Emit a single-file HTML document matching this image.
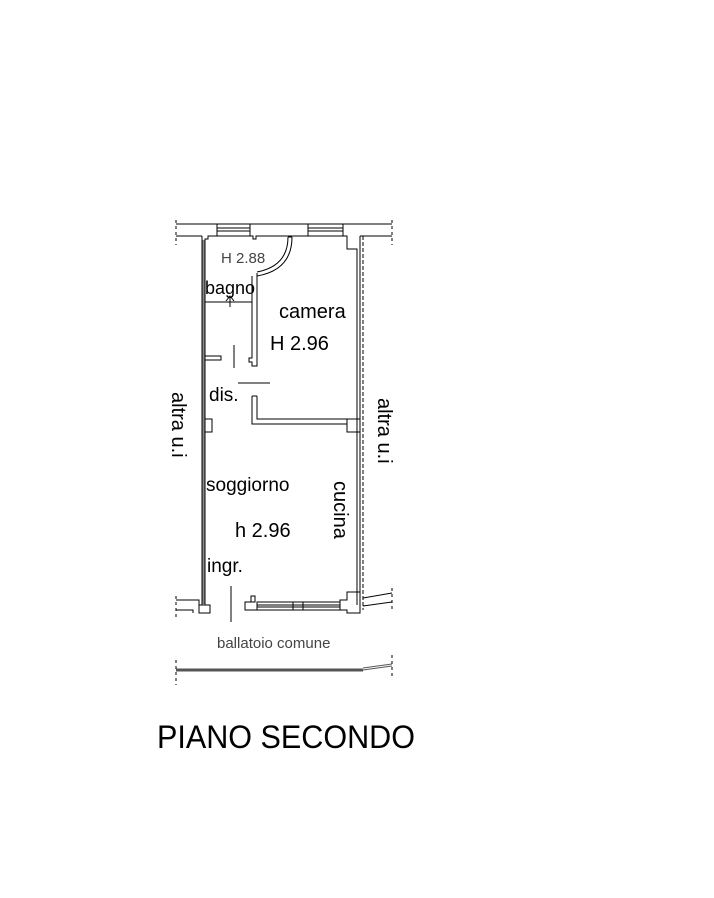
<!DOCTYPE html>
<html><head><style>
html,body{margin:0;padding:0;background:#fff;}
svg{display:block;}
text{font-family:"Liberation Sans",Arial,sans-serif;fill:#000;}
</style></head><body>
<svg width="714" height="898" viewBox="0 0 714 898" xmlns="http://www.w3.org/2000/svg">
<g stroke="#000" stroke-width="1" fill="none">
<line x1="176" y1="224" x2="392" y2="224"/>
<path d="M176 236 H202 M360 236 H392"/>
<line x1="176" y1="220" x2="176" y2="245" stroke-dasharray="3,3"/>
<line x1="392" y1="220" x2="392" y2="245" stroke-dasharray="3,3"/>
<path d="M205 605 V239 H208 V236 H217 M250 236 H253 V239 H256 V236 H308 M343 236 H347 V249 H357 V605"/>
<rect x="217" y="224" width="33" height="12"/>
<line x1="217" y1="228" x2="250" y2="228"/><line x1="217" y1="231" x2="250" y2="231"/>
<rect x="308" y="224" width="35" height="12"/>
<line x1="308" y1="228" x2="343" y2="228"/><line x1="308" y1="231" x2="343" y2="231"/>
<line x1="202" y1="236" x2="202" y2="605"/>
<rect x="202.5" y="240" width="2" height="364" fill="#888" stroke="none"/>
<line x1="360" y1="236" x2="360" y2="592"/>
<line x1="363" y1="236" x2="363" y2="610" stroke-dasharray="4,2"/>
<path d="M288 237 Q288 266 257 272" />
<path d="M292 237 Q292 270 257 276" />
<line x1="288" y1="237" x2="292" y2="237"/>
<path d="M252 276 V358 H249 V362 H252 V366 H257 V273"/>
<line x1="205" y1="302" x2="252" y2="302"/>
<line x1="230" y1="297" x2="230" y2="307"/>
<path d="M226 301 L230 296 L234 301"/>
<rect x="205" y="356" width="16" height="4"/>
<line x1="234" y1="345" x2="234" y2="368"/>
<line x1="238" y1="383" x2="270" y2="383"/>
<path d="M252 396 V424 H347 M257 396 V419 H347 M252 396 H257"/>
<rect x="347" y="419" width="13" height="13"/>
<rect x="205" y="419" width="7" height="13"/>
<path d="M176 600 H199 V613 H210 V605 H199"/>
<path d="M176 610 H193 V613"/>
<line x1="176" y1="596" x2="176" y2="618" stroke-dasharray="3,3"/>
<line x1="231" y1="586" x2="231" y2="622"/>
<path d="M251 602 V596 H255 V602 H245 V610 H347 V613 H360 V592 H347 V600 H340 V602"/>
<rect x="257" y="602" width="83" height="8"/>
<line x1="257" y1="605" x2="340" y2="605"/><line x1="257" y1="607" x2="340" y2="607"/>
<line x1="293" y1="602" x2="293" y2="610"/><line x1="303" y1="602" x2="303" y2="610"/>
<path d="M363 598 L392 593 M363 606 L392 602"/>
<line x1="392" y1="588" x2="392" y2="612" stroke-dasharray="3,3"/>
<line x1="176" y1="670" x2="363" y2="670" stroke="#555" stroke-width="3"/>
<path d="M363 670 L392 666 M363 668 L392 664" stroke="#555"/>
<line x1="176" y1="660" x2="176" y2="685" stroke-dasharray="3,3"/>
<line x1="392" y1="655" x2="392" y2="678" stroke-dasharray="3,3"/>
</g>
<text x="221" y="263" font-size="15" style="fill:#444">H 2.88</text>
<text x="205" y="294" font-size="18">bagno</text>
<text x="279" y="318" font-size="20">camera</text>
<text x="270" y="350" font-size="20">H 2.96</text>
<text x="209" y="401" font-size="19">dis.</text>
<text x="206" y="491" font-size="19">soggiorno</text>
<text x="235" y="537" font-size="20">h 2.96</text>
<text x="207" y="572" font-size="19">ingr.</text>
<text x="217" y="648" font-size="15" style="fill:#444">ballatoio comune</text>
<text transform="translate(172,392) rotate(90)" font-size="20">altra u.i</text>
<text transform="translate(378,398) rotate(90)" font-size="20">altra u.i</text>
<text transform="translate(334,481) rotate(90)" font-size="20">cucina</text>
<text x="157" y="748" font-size="32" textLength="258" lengthAdjust="spacingAndGlyphs">PIANO SECONDO</text>
</svg>
</body></html>
